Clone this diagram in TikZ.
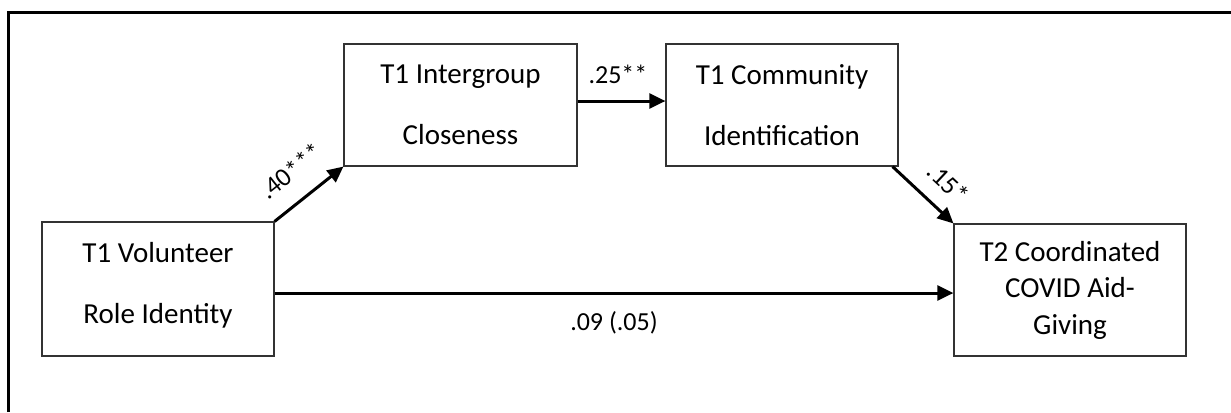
\documentclass[tikz,border=0pt]{standalone}
\usepackage{fontspec}
\setmainfont{Carlito}
\usetikzlibrary{arrows.meta,calc}
\begin{document}
\begin{tikzpicture}[x=0.75pt,y=-0.75pt,
  box/.style={draw=black!80, line width=0.8pt, align=center, inner sep=0pt,
    font=\fontsize{21.75pt}{46pt}\selectfont},
  arr/.style={line width=2.25pt, -{Triangle[length=12pt,width=11pt]}},
  lab/.style={font=\fontsize{19.5pt}{23pt}\selectfont, inner sep=0pt}]
\useasboundingbox (0,0) rectangle (1231,412);
% outer frame (top and left edges only)
\draw[line width=2.25pt] (8.5,412) -- (8.5,12) -- (1231,12);
% boxes
\node[box, minimum width=174pt, minimum height=100.5pt] (vol) at (158,289) {};
\node[box, draw=none] (volT) at (158,285.5) {T1 Volunteer\\Role Identity};
\node[box, minimum width=174.75pt, minimum height=91.5pt] (inter) at (460.5,105) {T1 Intergroup\\Closeness};
\node[box, minimum width=174pt, minimum height=91.5pt] (comm) at (782,105) {T1 Community\\Identification};
\node[box, minimum width=174pt, minimum height=99pt,
  font=\fontsize{21.75pt}{27.4pt}\selectfont] (t2) at (1070,290) {T2 Coordinated\\COVID Aid-\\Giving};
% connectors
\draw[arr] (vol.north east) -- node[lab, sloped, above=13.9pt, pos=0.5] (l40) {.40***} (inter.south west);
\draw[arr] ($(inter.east)+(0,-4)$) coordinate (s25) -- node[lab, above=12pt, pos=0.46] (l25) {.25**} (s25 -| comm.west);
\draw[arr] ($(comm.south east)+(-6,0)$) -- node[lab, sloped, above=11.6pt, pos=0.62] (l15) {.15*} (t2.north west);
\draw[arr] ($(vol.east)+(0,4)$) coordinate (s09) -- node[lab, below=12.75pt, pos=0.5] (l09) {.09 (.05)} (s09 -| t2.west);
\end{tikzpicture}
\end{document}
